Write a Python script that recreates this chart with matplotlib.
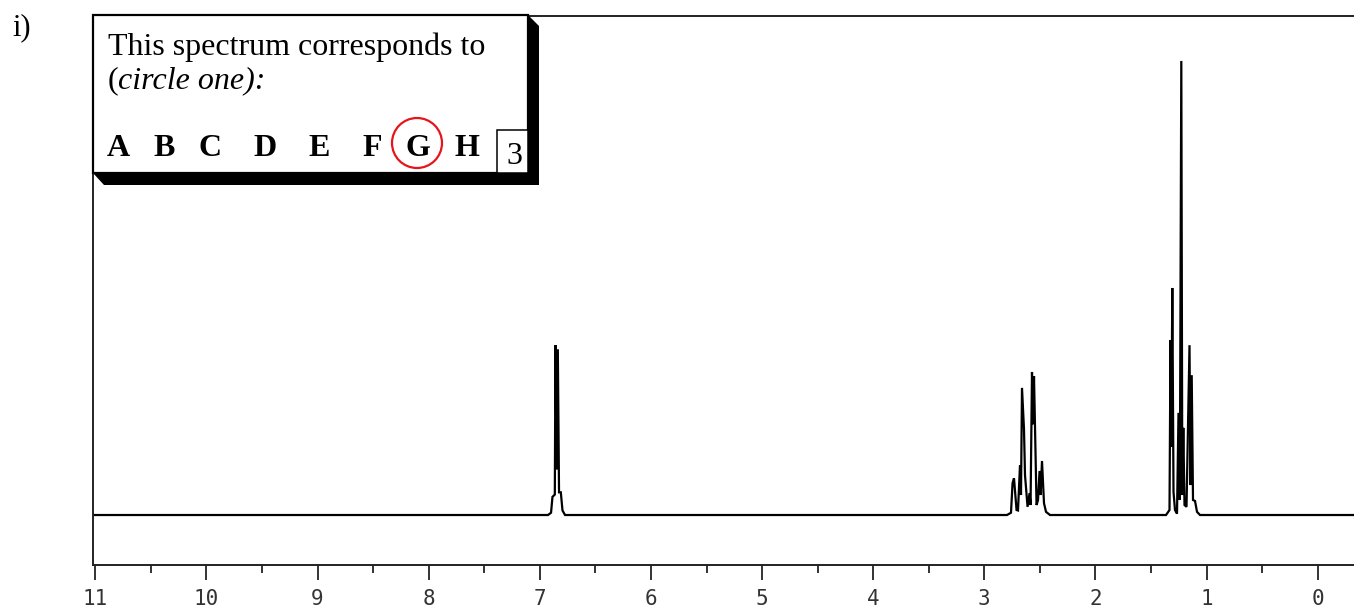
import matplotlib
matplotlib.use("Agg")
import matplotlib.pyplot as plt
from matplotlib.patches import Rectangle, Polygon, Circle

# ---------------- data ----------------
# spectrum trace: chemical shift (ppm) and relative intensity (tallest = 100)
shift_ppm = [11.02, 6.926, 6.899, 6.886, 6.865, 6.859, 6.849, 6.838, 6.827, 6.811, 6.796, 6.773,
             2.796, 2.760, 2.746, 2.733, 2.710, 2.697, 2.679, 2.670, 2.661, 2.643, 2.634, 2.611,
             2.593, 2.584, 2.571, 2.562, 2.553, 2.530, 2.517, 2.503, 2.494, 2.481, 2.463, 2.445, 2.409,
             1.365, 1.3336, 1.3246, 1.3174, 1.3084, 1.2976, 1.2841, 1.2661, 1.2526, 1.2409, 1.2274,
             1.2184, 1.2094, 1.1986, 1.1806, 1.1536, 1.1446, 1.1338, 1.1221, 1.1041, 1.0861, 1.0591,
             -0.33]
intensity = [0.0, 0.0, 0.5, 4.0, 4.5, 37.4, 10.0, 36.5, 5.0, 5.0, 1.0, 0.0,
             0.0, 0.5, 7.0, 8.1, 1.1, 1.0, 11.0, 4.4, 28.0, 18.9, 8.8, 1.8,
             4.8, 2.2, 31.5, 20.0, 30.6, 2.2, 3.3, 9.7, 4.4, 11.9, 2.6, 0.7, 0.0,
             0.0, 1.1, 38.5, 15.0, 50.0, 5.1, 1.1, 0.3, 22.5, 3.3, 100.0,
             4.4, 19.2, 2.2, 1.8, 37.4, 6.6, 30.8, 3.3, 3.1, 0.7, 0.0,
             0.0]

major_ticks = [11, 10, 9, 8, 7, 6, 5, 4, 3, 2, 1, 0]
major_labels = ["11", "10", "9", "8", "7", "6", "5", "4", "3", "2", "1", "0"]
minor_ticks = [10.5, 9.5, 8.5, 7.5, 6.5, 5.5, 4.5, 3.5, 2.5, 1.5, 0.5]

choices = ["A", "B", "C", "D", "E", "F", "G", "H"]
answer = "G"
points = "3"

# ---------------- figure ----------------
W, H = 1354, 609
fig = plt.figure(figsize=(W / 100, H / 100), dpi=100)
ax = fig.add_axes([93 / W, (H - 565) / H, (W - 93) / W, (565 - 16) / H])

ax.plot(shift_ppm, intensity, color="black", lw=1.6, solid_joinstyle="miter")
ax.set_xlim(11.0207, -0.3266)
ax.set_ylim(-11.01, 109.9)

ax.spines["right"].set_visible(False)
for s in ("left", "bottom", "top"):
    ax.spines[s].set_linewidth(1.4)
    ax.spines[s].set_color("#222222")

ax.set_yticks([])
ax.set_xticks(major_ticks)
ax.set_xticklabels(major_labels, family="DejaVu Sans Mono", fontsize=15, color="#333333")
ax.set_xticks(minor_ticks, minor=True)
ax.tick_params(axis="x", which="major", direction="out", length=11, width=1.4, pad=6, colors="#333333")
ax.tick_params(axis="x", which="minor", direction="out", length=6, width=1.4, colors="#333333")

# ---------------- overlay (pixel coordinates) ----------------
ov = fig.add_axes([0, 0, 1, 1], zorder=10)
ov.set_xlim(0, W)
ov.set_ylim(H, 0)
ov.axis("off")
ov.patch.set_alpha(0)

serif = "Liberation Serif"
ov.text(12, 35, "i)", family=serif, fontsize=22, va="baseline", ha="left")

# shadowed box
ov.add_patch(Polygon([(93, 173), (528, 173), (528, 15), (539, 26), (539, 185), (104, 185)],
                     closed=True, facecolor="black", edgecolor="black", lw=0))
ov.add_patch(Rectangle((93, 15), 528 - 93, 173 - 15, facecolor="white", edgecolor="black", lw=1.6))
ov.add_patch(Rectangle((497, 130), 528 - 497, 173 - 130, facecolor="white", edgecolor="black", lw=1.1))

fs = 23
ov.text(108, 55, "This spectrum corresponds to", family=serif, fontsize=fs, va="baseline", ha="left")
ov.text(108, 88, "(", family=serif, fontsize=fs, va="baseline", ha="left")
ov.text(118, 88, "circle one):", family=serif, style="italic", fontsize=fs, va="baseline", ha="left")

choice_x = [118, 164, 210, 265, 319, 372, 418, 467]
for c, x in zip(choices, choice_x):
    ov.text(x, 156, c, family=serif, weight="bold", fontsize=fs, va="baseline", ha="center")
    if c == answer:
        ov.add_patch(Circle((x - 1, 143), 25, fill=False, edgecolor="#e8141b", lw=1.6))

ov.text(514, 164, points, family=serif, fontsize=fs, va="baseline", ha="center")

fig.savefig("out.png", dpi=100)
